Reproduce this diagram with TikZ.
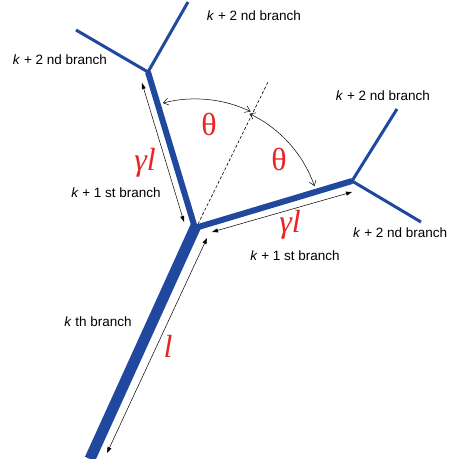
\documentclass[tikz,border=0pt]{standalone}
\usepackage{fontspec}
\setmainfont{Liberation Sans}
\newfontfamily\greekfont{Liberation Serif}
\usetikzlibrary{arrows.meta,calc}
\definecolor{branchBlue}{RGB}{32,72,158}
\definecolor{labelRed}{RGB}{232,36,36}
\tikzset{
  trunk/.style={draw=branchBlue,line width=#1,line join=miter},
  dimArrow/.style={{Triangle[length=6pt,width=4pt]}-{Triangle[length=6pt,width=4pt]},line width=0.5pt},
  angArrow/.style={{Straight Barb[length=5pt,width=7pt]}-{Straight Barb[length=5pt,width=7pt]},line width=0.5pt},
  brLabel/.style={font=\fontsize{13.5}{15}\selectfont,inner sep=0pt},
  symLabel/.style={text=labelRed,font=\fontsize{32}{34}\selectfont\greekfont,inner sep=0pt},
}
\newcommand{\brname}[2]{\textit{k} + #1 #2 branch}
\begin{document}
\begin{tikzpicture}[x=1pt,y=-1pt]
  \useasboundingbox (0,0) rectangle (451,459);
  % skeleton points
  \coordinate (J) at (195,228);
  \coordinate (B) at (90,459);
  \coordinate (L) at (148,72);
  \coordinate (R) at (352,181);
  \coordinate (L1) at (76,30);
  \coordinate (L2) at (188,2);
  \coordinate (R1) at (397,109);
  \coordinate (R2) at (421,222);
  \coordinate (D0) at (198,224);
  \coordinate (D1) at (268,82);
  % branches
  \draw[trunk=11pt] (B)--($(J)!-3pt!(B)$);
  \draw[trunk=6pt] (L)--(J)--(R);
  \draw[trunk=3pt] (L1)--(L)--(L2);
  \draw[trunk=3pt] (R1)--(R)--(R2);
  % bisector
  \draw[dashed,line width=0.6pt,dash pattern=on 3pt off 2pt] (D0)--(D1);
  % length markers
  \coordinate (la) at (207,238);
  \coordinate (lb) at (107,453);
  \coordinate (ga) at (142,83);
  \coordinate (gb) at (184,222);
  \coordinate (ra) at (212,232);
  \coordinate (rb) at (352,192);
  \draw[dimArrow] (la)--(lb);
  \draw[dimArrow] (ga)--(gb);
  \draw[dimArrow] (ra)--(rb);
  % angle arcs
  \coordinate (A0) at ($(J)+(-32,-125)$);
  \draw[angArrow] (A0) arc[start angle=-104.4,end angle=-64.5,radius=129];
  \coordinate (A1) at ($(J)+(54.5,-114.3)$);
  \draw[angArrow] (A1) arc[start angle=-64.5,end angle=-19.3,radius=126.6];
  % labels
  \node[brLabel] (t1) at (254,16) {\brname{2}{nd}};
  \node[brLabel] (t2) at (60,60) {\brname{2}{nd}};
  \node[brLabel] (t3) at (383,96) {\brname{2}{nd}};
  \node[brLabel,anchor=west] (t4) at (353,233) {\brname{2}{nd}};
  \node[brLabel] (s1) at (116,193) {\brname{1}{st}};
  \node[brLabel] (s2) at (295,256) {\brname{1}{st}};
  \node[brLabel] (k0) at (98,322) {\textit{k} th branch};
  \node[symLabel] (g1) at (145,163) {\itshape γl};
  \node[symLabel] (g2) at (290,225) {\itshape γl};
  \node[symLabel] (th1) at (209,124) {θ};
  \node[symLabel] (th2) at (279,159) {θ};
  \node[symLabel] (ll) at (168,346) {\itshape l};
\end{tikzpicture}
\end{document}
